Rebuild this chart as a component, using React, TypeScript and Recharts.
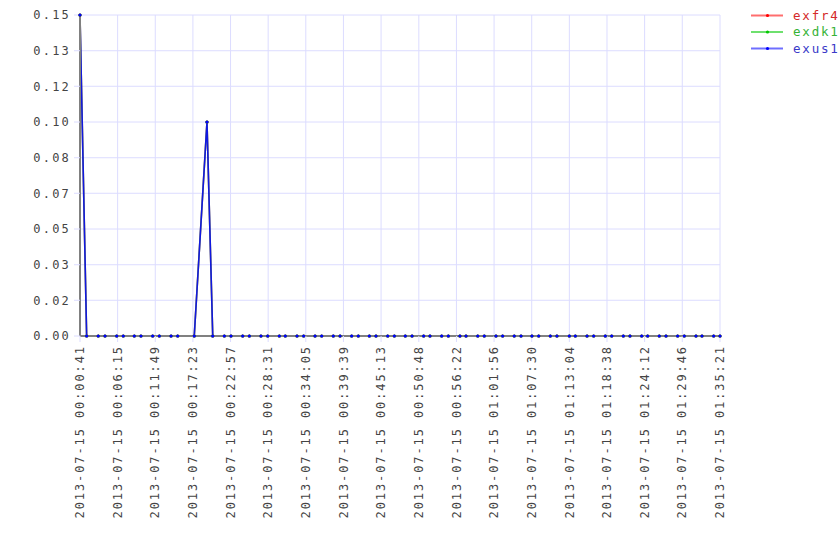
import React from 'react';
import { LineChart, Line, XAxis, YAxis, CartesianGrid } from 'recharts';

const DAY = '2013-07-15';

// sample times (HH:MM:SS on 2013-07-15)
const times = [
  '00:00:41', '00:01:40', '00:03:23', '00:04:23', '00:06:07', '00:07:05', '00:08:43', '00:09:42',
  '00:11:26', '00:12:25', '00:14:09', '00:15:08', '00:17:35', '00:19:28', '00:20:19', '00:22:02',
  '00:23:01', '00:24:45', '00:25:44', '00:27:27', '00:28:27', '00:30:10', '00:31:03', '00:32:47',
  '00:33:46', '00:35:27', '00:36:26', '00:38:09', '00:39:09', '00:40:52', '00:41:51', '00:43:29',
  '00:44:28', '00:46:12', '00:47:11', '00:48:48', '00:49:48', '00:51:31', '00:52:27', '00:54:11',
  '00:55:10', '00:56:53', '00:57:47', '00:59:31', '01:00:29', '01:02:13', '01:03:12', '01:04:55',
  '01:05:55', '01:07:32', '01:08:32', '01:10:15', '01:11:14', '01:13:04', '01:13:57', '01:15:41',
  '01:16:40', '01:18:23', '01:19:20', '01:21:03', '01:22:02', '01:23:46', '01:24:39', '01:26:22',
  '01:27:22', '01:29:05', '01:30:04', '01:31:48', '01:32:41', '01:34:25', '01:35:21',
];

const exfr4 = [
  0.15, 0, 0, 0, 0, 0, 0, 0, 0, 0, 0, 0, 0, 0.1, 0, 0,
  0, 0, 0, 0, 0, 0, 0, 0, 0, 0, 0, 0, 0, 0, 0, 0,
  0, 0, 0, 0, 0, 0, 0, 0, 0, 0, 0, 0, 0, 0, 0, 0,
  0, 0, 0, 0, 0, 0, 0, 0, 0, 0, 0, 0, 0, 0, 0, 0,
  0, 0, 0, 0, 0, 0, 0,
];
const exdk1 = [
  0.15, 0, 0, 0, 0, 0, 0, 0, 0, 0, 0, 0, 0, 0.1, 0, 0,
  0, 0, 0, 0, 0, 0, 0, 0, 0, 0, 0, 0, 0, 0, 0, 0,
  0, 0, 0, 0, 0, 0, 0, 0, 0, 0, 0, 0, 0, 0, 0, 0,
  0, 0, 0, 0, 0, 0, 0, 0, 0, 0, 0, 0, 0, 0, 0, 0,
  0, 0, 0, 0, 0, 0, 0,
];
const exus1 = [
  0.15, 0, 0, 0, 0, 0, 0, 0, 0, 0, 0, 0, 0, 0.1, 0, 0,
  0, 0, 0, 0, 0, 0, 0, 0, 0, 0, 0, 0, 0, 0, 0, 0,
  0, 0, 0, 0, 0, 0, 0, 0, 0, 0, 0, 0, 0, 0, 0, 0,
  0, 0, 0, 0, 0, 0, 0, 0, 0, 0, 0, 0, 0, 0, 0, 0,
  0, 0, 0, 0, 0, 0, 0,
];

const xTickLabels = [
  '00:00:41', '00:06:15', '00:11:49', '00:17:23', '00:22:57', '00:28:31', '00:34:05', '00:39:39',
  '00:45:13', '00:50:48', '00:56:22', '01:01:56', '01:07:30', '01:13:04', '01:18:38', '01:24:12',
  '01:29:46', '01:35:21',
];
const yTicks = [0, 0.0167, 0.0333, 0.05, 0.0667, 0.0833, 0.1, 0.1167, 0.1333, 0.15];

const series = [
  { key: 'exfr4', line: '#ff0000', text: '#d42a2a', opacity: 0.57, values: exfr4 },
  { key: 'exdk1', line: '#00c800', text: '#36b236', opacity: 0.57, values: exdk1 },
  { key: 'exus1', line: '#0000ff', text: '#3a3ac8', opacity: 0.85, values: exus1 },
];

const toSec = (s: string) => {
  const [h, m, sec] = s.split(':').map(Number);
  return h * 3600 + m * 60 + sec;
};
const pad = (n: number) => String(n).padStart(2, '0');
const fmtTime = (v: number) =>
  `${pad(Math.floor(v / 3600))}:${pad(Math.floor((v % 3600) / 60))}:${pad(v % 60)}`;

const data = times.map((t, i) => {
  const row: Record<string, number> = { t: toSec(t) };
  series.forEach((s) => (row[s.key] = s.values[i]));
  return row;
});
const xTicks = xTickLabels.map(toSec);

const FONT = "'DejaVu Sans Mono', monospace";
const GRID = '#dcdcff';
const AXIS = '#808080';

const XTick = (props: any) => {
  const { x, y, payload } = props;
  return (
    <text
      transform={`translate(${x},${y + 1}) rotate(-90)`}
      textAnchor="end"
      dy="0.35em"
      fontFamily={FONT}
      fontSize={12}
      letterSpacing={1.9}
      fill="#444"
    >
      {`${DAY} ${fmtTime(payload.value)}`}
    </text>
  );
};

const LegendBox = () => (
  <svg width={89} height={60} style={{ position: 'absolute', left: 751, top: 0 }}>
    {series.map((s, i) => {
      const cy = 15.5 + i * 16.5;
      return (
        <g key={s.key}>
          <line x1={0} x2={32} y1={cy} y2={cy} stroke={s.line} strokeOpacity={0.57} strokeWidth={2} />
          <circle cx={16.5} cy={cy} r={1.6} fill={s.line} />
          <text x={42} y={cy} dy="0.35em" fontFamily={FONT} fontSize={12.5} letterSpacing={1.8} fill={s.text}>
            {s.key}
          </text>
        </g>
      );
    })}
  </svg>
);

export default function App() {
  return (
    <div style={{ width: 840, height: 560, background: '#fff', position: 'relative' }}>
      <style>{'body{margin:0}'}</style>
      <LineChart width={840} height={560} data={data} margin={{ top: 15, right: 120, bottom: 0, left: 0 }}>
        <CartesianGrid stroke={GRID} strokeWidth={1} />
        <XAxis
          dataKey="t"
          type="number"
          domain={[41, 5721]}
          ticks={xTicks}
          interval={0}
          height={224}
          tick={<XTick />}
          tickSize={6}
          tickLine={{ stroke: GRID }}
          axisLine={{ stroke: AXIS, strokeWidth: 2 }}
        />
        <YAxis
          type="number"
          domain={[0, 0.15]}
          ticks={yTicks}
          interval={0}
          width={80}
          tickFormatter={(v: number) => v.toFixed(2)}
          tick={{ fontFamily: FONT, fontSize: 12, letterSpacing: 2.2, fill: '#444' }}
          tickSize={6}
          tickMargin={3}
          tickLine={{ stroke: GRID }}
          axisLine={{ stroke: AXIS, strokeWidth: 2 }}
        />
        {series.map((s) => (
          <Line
            key={s.key}
            dataKey={s.key}
            type="linear"
            stroke={s.line}
            strokeOpacity={s.opacity}
            strokeWidth={1.6}
            dot={{ r: 1.6, fill: s.line, stroke: 'none' }}
            activeDot={false}
            isAnimationActive={false}
          />
        ))}
      </LineChart>
      <LegendBox />
    </div>
  );
}
